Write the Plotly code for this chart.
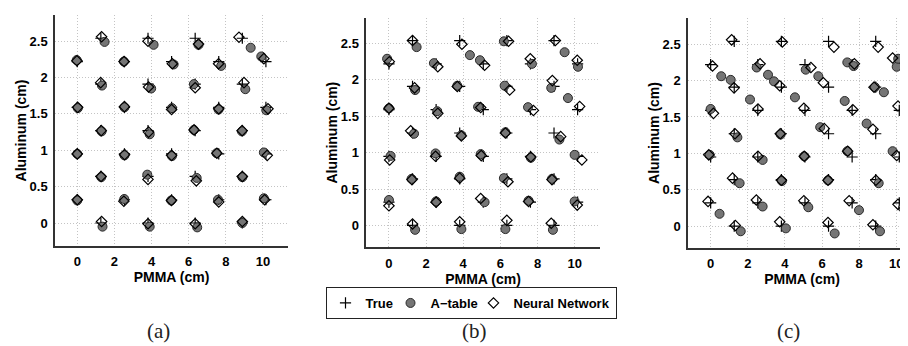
import plotly.graph_objects as go

# ---------------- data ----------------
true_x = [0, 0, 0, 0,
          1.27, 1.27, 1.27, 1.27, 1.27,
          2.54, 2.54, 2.54, 2.54,
          3.81, 3.81, 3.81, 3.81, 3.81,
          5.08, 5.08, 5.08, 5.08,
          6.35, 6.35, 6.35, 6.35, 6.35,
          7.62, 7.62, 7.62, 7.62,
          8.89, 8.89, 8.89, 8.89, 8.89,
          10.16, 10.16, 10.16, 10.16]
true_y = [0.32, 0.95, 1.59, 2.22,
          0, 0.64, 1.27, 1.91, 2.54,
          0.32, 0.95, 1.59, 2.22,
          0, 0.64, 1.27, 1.91, 2.54,
          0.32, 0.95, 1.59, 2.22,
          0, 0.64, 1.27, 1.91, 2.54,
          0.32, 0.95, 1.59, 2.22,
          0, 0.64, 1.27, 1.91, 2.54,
          0.32, 0.95, 1.59, 2.22]

# panel (a)
a_atable_x = [0, 0, 0.03, -0.03, 1.36, 1.29, 1.31, 1.33, 1.47, 2.53, 2.54, 2.54, 2.51,
              3.9, 3.77, 3.9, 3.98, 4.11, 5.06, 5.1, 5.1, 5.19, 6.46, 6.43, 6.28, 6.28, 6.53,
              7.58, 7.5, 7.61, 7.75, 8.89, 8.89, 8.87, 9.05, 9.34, 10.05, 10.05, 10.18, 9.91]
a_atable_y = [0.31, 0.95, 1.58, 2.24, -0.05, 0.63, 1.26, 1.89, 2.49, 0.33, 0.93, 1.59, 2.22,
              -0.05, 0.665, 1.22, 1.85, 2.45, 0.31, 0.92, 1.58, 2.18, -0.06, 0.62, 1.28, 1.91, 2.45,
              0.32, 0.96, 1.56, 2.16, 0.0, 0.63, 1.26, 1.84, 2.41, 0.34, 0.97, 1.55, 2.29]
a_nn_x = [0, 0, 0.02, -0.02, 1.31, 1.28, 1.29, 1.26, 1.31, 2.51, 2.55, 2.54, 2.52,
          3.81, 3.81, 3.84, 3.84, 3.81, 5.07, 5.08, 5.08, 5.12, 6.35, 6.41, 6.29, 6.35, 6.53,
          7.62, 7.52, 7.62, 7.61, 8.89, 8.89, 8.88, 8.98, 8.71, 10.09, 10.23, 10.27, 10.05]
a_nn_y = [0.32, 0.95, 1.59, 2.23, 0.02, 0.64, 1.27, 1.93, 2.56, 0.30, 0.94, 1.6, 2.22,
          -0.01, 0.6, 1.25, 1.87, 2.5, 0.31, 0.93, 1.56, 2.19, -0.01, 0.58, 1.28, 1.86, 2.46,
          0.29, 0.96, 1.57, 2.19, 0.02, 0.64, 1.27, 1.93, 2.555, 0.32, 0.93, 1.57, 2.26]

# panel (b)
b_atable_x = [0, 0.09, 0, -0.1, 1.41, 1.22, 1.35, 1.41, 1.49, 2.54, 2.51, 2.6, 2.42,
              3.9, 3.81, 3.9, 3.68, 4.36, 5.15, 4.94, 4.8, 4.9, 6.27, 6.19, 6.27, 6.23, 6.19,
              7.52, 7.64, 7.49, 7.7, 8.83, 8.78, 9.18, 8.74, 9.46, 10.0, 10.0, 9.64, 10.18]
b_atable_y = [0.35, 0.955, 1.61, 2.29, -0.06, 0.64, 1.26, 1.86, 2.45, 0.33, 0.99, 1.57, 2.23,
              -0.05, 0.67, 1.24, 1.92, 2.34, 0.32, 0.98, 1.63, 2.27, -0.05, 0.65, 1.28, 1.92, 2.53,
              0.34, 0.93, 1.625, 2.22, -0.06, 0.64, 1.18, 1.89, 2.38, 0.33, 0.97, 1.75, 2.18]
b_nn_x = [0, 0.04, 0, 0.02, 1.27, 1.24, 1.17, 1.38, 1.27, 2.54, 2.51, 2.63, 2.63,
          3.81, 3.81, 3.9, 3.68, 3.93, 4.94, 4.97, 4.94, 5.15, 6.35, 6.41, 6.27, 6.5, 6.44,
          7.52, 7.64, 7.78, 7.61, 8.74, 8.78, 9.25, 8.8, 8.96, 10.14, 10.39, 10.27, 10.14]
b_nn_y = [0.27, 0.9, 1.61, 2.25, 0.02, 0.63, 1.3, 1.89, 2.54, 0.32, 0.95, 1.54, 2.18,
          0.05, 0.65, 1.23, 1.91, 2.49, 0.37, 0.96, 1.62, 2.2, 0.07, 0.6, 1.27, 1.86, 2.53,
          0.33, 0.94, 1.58, 2.29, 0.03, 0.63, 1.22, 1.99, 2.54, 0.28, 0.9, 1.635, 2.27]

# panel (c)
c_atable_x = [-0.05, 0.0, 0.57, 0.48, 1.08, 1.44, 1.56, 1.62, 2.12, 2.48, 2.8, 2.8, 3.09,
              3.41, 3.77, 4.05, 3.84, 4.54, 5.04, 5.26, 5.12, 5.8, 5.9, 6.32, 6.68, 7.22,
              7.36, 7.36, 7.7, 7.99, 8.4, 8.85, 9.05, 9.12, 9.33, 9.8, 10.02, 10.1, 10.36]
c_atable_y = [0.98, 1.61, 2.06, 0.17, 2.01, 1.22, 0.59, -0.07, 1.74, 2.18, 0.27, 0.91, 2.08,
              1.99, 1.26, -0.03, 0.62, 1.77, 0.96, 0.26, 2.15, 2.06, 1.36, 0.63, -0.1, 1.72,
              2.25, 1.03, 2.2, 0.22, 1.41, 1.91, 0.59, -0.07, 1.84, 1.03, 2.19, 2.3, 0.25]
c_nn_x = [-0.14, -0.1, 0.15, 0.1, 1.33, 1.18, 1.31, 1.26, 1.13, 2.46, 2.55, 2.55, 2.66,
          3.72, 3.81, 3.75, 3.72, 3.86, 5.02, 5.04, 5.02, 5.4, 6.32, 6.32, 6.12, 6.07, 6.64,
          7.46, 7.38, 7.66, 7.74, 8.74, 8.9, 8.74, 8.8, 9.02, 10.09, 10.02, 10.09, 9.8]
c_nn_y = [0.34, 0.98, 1.55, 2.2, 0.01, 0.66, 1.27, 1.9, 2.56, 0.36, 0.96, 1.61, 2.23,
          0.06, 0.63, 1.27, 1.93, 2.53, 0.35, 0.96, 1.62, 2.18, 0.05, 0.63, 1.34, 1.97, 2.46,
          0.35, 1.03, 1.6, 2.23, 0.02, 0.63, 1.33, 1.91, 2.46, 0.3, 0.97, 1.65, 2.31]

x_ticks = [0, 2, 4, 6, 8, 10]
y_ticks = [0, 0.5, 1, 1.5, 2, 2.5]
panel_labels = ["(a)", "(b)", "(c)"]
series_names = ["True", "A\u2212table", "Neural Network"]

# ---------------- layout geometry (px) ----------------
W, H = 908, 346
panels = [
    dict(x0=47, x1=280, y0=7, y1=238, xr=[-1.2, 11.35], yr=[-0.316, 2.86],
         at=(a_atable_x, a_atable_y), nn=(a_nn_x, a_nn_y), lab_x=150),
    dict(x0=358.3, x1=591.7, y0=10, y1=239.3, xr=[-1.22, 11.35], yr=[-0.30, 2.85],
         at=(b_atable_x, b_atable_y), nn=(b_nn_x, b_nn_y), lab_x=467),
    dict(x0=680, x1=908, y0=10, y1=240, xr=[-1.22, 11.06], yr=[-0.30, 2.86],
         at=(c_atable_x, c_atable_y), nn=(c_nn_x, c_nn_y), lab_x=780),
]

fig = go.Figure()
fam = "Liberation Sans, Arial, sans-serif"
tick_font = dict(family=fam, size=13, color="black", weight="bold")
title_font = dict(family=fam, size=14, color="black", weight="bold")

for i, p in enumerate(panels):
    n = "" if i == 0 else str(i + 1)
    xa, ya = "x" + n, "y" + n
    show = i == 0
    fig.add_trace(go.Scatter(x=true_x, y=true_y, mode="markers", name=series_names[0],
                             xaxis=xa, yaxis=ya, showlegend=show, legendgroup="t",
                             legendwidth=20,
                             marker=dict(symbol="cross-thin-open", size=8, color="black",
                                         line=dict(color="black", width=1.2))))
    fig.add_trace(go.Scatter(x=p["at"][0], y=p["at"][1], mode="markers", name=series_names[1],
                             xaxis=xa, yaxis=ya, showlegend=show, legendgroup="a",
                             legendwidth=38,
                             marker=dict(symbol="circle", size=9, color="#757575",
                                         line=dict(color="#2a2a2a", width=1))))
    fig.add_trace(go.Scatter(x=p["nn"][0], y=p["nn"][1], mode="markers", name=series_names[2],
                             xaxis=xa, yaxis=ya, showlegend=show, legendgroup="n",
                             marker=dict(symbol="diamond-open", size=8, color="black",
                                         line=dict(color="black", width=1.2))))
    common = dict(showgrid=True, gridcolor="#c4c4c4", griddash="1px,2px", gridwidth=1,
                  zeroline=False, showline=True, linecolor="#333", linewidth=1.5,
                  ticks="", tickfont=tick_font, fixedrange=True)
    xaxis = dict(common, domain=[p["x0"] / W, p["x1"] / W], range=p["xr"],
                 tickvals=x_ticks, ticklabelstandoff=3, anchor=ya,
                 title=dict(text="PMMA (cm)", font=title_font, standoff=0))
    yaxis = dict(common, domain=[1 - p["y1"] / H, 1 - p["y0"] / H], range=p["yr"],
                 tickvals=y_ticks, ticklabelstandoff=3, anchor=xa,
                 title=dict(text="Aluminum (cm)", font=title_font, standoff=0))
    fig.update_layout({"xaxis" + n: xaxis, "yaxis" + n: yaxis})
    fig.add_annotation(x=p["lab_x"] / W, y=1 - 323 / H, xref="paper", yref="paper",
                       text=panel_labels[i], showarrow=False, xanchor="center", yanchor="middle",
                       font=dict(family="Liberation Serif, serif", size=21, color="#222"))

fig.update_layout(
    width=W, height=H, margin=dict(l=0, r=0, t=0, b=0),
    paper_bgcolor="white", plot_bgcolor="white",
    legend=dict(orientation="h", x=463 / W, xanchor="center", y=1 - 279 / H, yanchor="top",
                bordercolor="#222", borderwidth=1, bgcolor="white",
                font=dict(family=fam, size=13, color="black", weight="bold"),
                itemwidth=30, tracegroupgap=0),
)

fig.write_html("out.html")
